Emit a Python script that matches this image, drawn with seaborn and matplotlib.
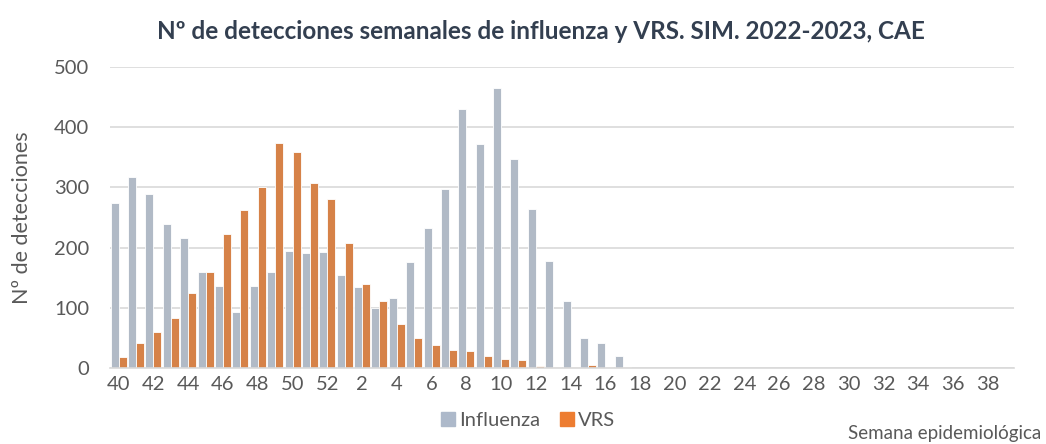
import pandas as pd
import numpy as np
import matplotlib.pyplot as plt
import seaborn as sns
from matplotlib.patches import Patch

# semanas epidemiologicas 40-52 (2022) y 1-39 (2023)
semanas = [str(s) for s in list(range(40, 53)) + list(range(1, 40))]
influenza = [275, 317, 289, 239, 216, 159, 136, 93, 136, 159, 194, 191, 193,
             154, 134, 99, 117, 176, 233, 297, 430, 373, 465, 348, 264, 178,
             112, 50, 41, 20] + [0] * 22
vrs = [18, 42, 60, 84, 125, 159, 222, 263, 301, 374, 359, 308, 280,
       208, 140, 112, 73, 50, 39, 30, 28, 20, 15, 13, 3, 1,
       2, 5, 1, 1] + [0] * 22

df = pd.DataFrame({'Semana': semanas * 2,
                   'Detecciones': influenza + vrs,
                   'Virus': ['Influenza'] * len(semanas) + ['VRS'] * len(semanas)})

sns.set_style('white')
plt.rcParams['font.family'] = ['Lato', 'DejaVu Sans']

fig = plt.figure(figsize=(10.46, 4.44), dpi=100)
ax = fig.add_axes([0.1052, 0.171, 0.864, 0.678])
sns.barplot(ax=ax, data=df, x='Semana', y='Detecciones', hue='Virus', order=semanas,
            palette={'Influenza': '#ADB9CA', 'VRS': '#ED7D31'}, width=0.92,
            edgecolor='white', linewidth=0.6, legend=False)

ax.set_ylim(0, 500)
ax.set_xlim(-0.5, len(semanas) - 0.5)
ax.set_yticks(range(0, 501, 100))
ax.set_xticks(range(0, len(semanas), 2))
ax.set_xticklabels(semanas[::2])
ax.tick_params(axis='both', labelsize=14.5, colors='#595959', length=0, pad=6)
ax.tick_params(axis='y', pad=15)
ax.yaxis.grid(True, color='#D9D9D9', linewidth=1.2)
ax.set_axisbelow(True)
for s in ['top', 'right', 'left']:
    ax.spines[s].set_visible(False)
ax.spines['bottom'].set_color('#D9D9D9')
ax.spines['bottom'].set_linewidth(1.2)

ax.set_xlabel('')
ax.set_ylabel('Nº de detecciones', fontsize=15.5, color='#595959', labelpad=16)

fig.text(0.517, 0.928, 'Nº de detecciones semanales de influenza y VRS. SIM. 2022-2023, CAE',
         ha='center', va='center', fontsize=17.5, fontweight='bold', color='#333F50')
fig.text(0.995, 0.005, 'Semana epidemiológica', ha='right', va='bottom',
         fontsize=13.5, color='#595959')

handles = [Patch(color='#ADB9CA', label='Influenza'), Patch(color='#ED7D31', label='VRS')]
fig.legend(handles=handles, loc='center', bbox_to_anchor=(0.505, 0.053), ncol=2,
           frameon=False, fontsize=14.5, handlelength=0.7, handleheight=0.7,
           handletextpad=0.2, columnspacing=1.0, labelcolor='#595959')

fig.savefig('out.png', dpi=100)
